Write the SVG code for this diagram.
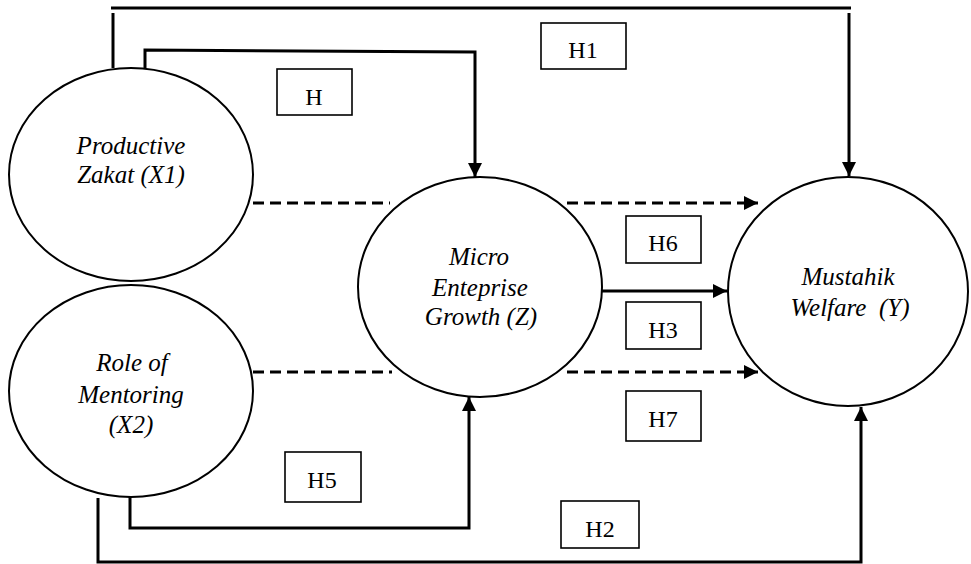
<svg xmlns="http://www.w3.org/2000/svg" width="971" height="564" viewBox="0 0 971 564">
<defs>
<marker id="ah" viewBox="0 0 14 14" refX="14" refY="7" markerWidth="14" markerHeight="14" markerUnits="userSpaceOnUse" orient="auto">
<path d="M0,0 L14,7 L0,14 Z" fill="#000"/>
</marker>
</defs>
<rect width="971" height="564" fill="#fff"/>
<g id="connectors" fill="none" stroke="#000" stroke-width="3">
<line x1="111" y1="8" x2="851" y2="8"/>
<line x1="113" y1="13" x2="113" y2="68"/>
<line x1="849" y1="13" x2="849" y2="176" marker-end="url(#ah)"/>
<polyline points="145,68 145,50 475,52 475,177" marker-end="url(#ah)"/>
<line stroke-dasharray="11 6" x1="253" y1="203" x2="390" y2="203"/>
<line stroke-dasharray="11 6" x1="567" y1="203" x2="758" y2="203" marker-end="url(#ah)"/>
<line x1="602" y1="291" x2="727" y2="291" marker-end="url(#ah)"/>
<line stroke-dasharray="11 6" x1="253" y1="372" x2="392" y2="372"/>
<line stroke-dasharray="11 6" x1="567" y1="372" x2="758" y2="372" marker-end="url(#ah)"/>
<polyline points="130,497 130,528 469,528 469,397" marker-end="url(#ah)"/>
<polyline points="98,498 98,562 861,562 861,407" marker-end="url(#ah)"/>
</g>
<g id="X1">
<ellipse cx="131" cy="174.5" rx="122" ry="106.5" fill="#fff" stroke="#000" stroke-width="2"/>
<text x="131" y="154" font-family="'Liberation Serif', 'Times New Roman', Tinos, serif" font-style="italic" font-size="25" text-anchor="middle" style="font-family:'Liberation Serif','Times New Roman',serif">Productive</text>
<text x="131" y="183" font-family="'Liberation Serif', 'Times New Roman', Tinos, serif" font-style="italic" font-size="25" text-anchor="middle" style="font-family:'Liberation Serif','Times New Roman',serif">Zakat (X1)</text>
</g>
<g id="X2">
<ellipse cx="131" cy="391" rx="122" ry="106" fill="#fff" stroke="#000" stroke-width="2"/>
<text x="132" y="371" font-family="'Liberation Serif', 'Times New Roman', Tinos, serif" font-style="italic" font-size="25" text-anchor="middle" style="font-family:'Liberation Serif','Times New Roman',serif">Role of</text>
<text x="131" y="403" font-family="'Liberation Serif', 'Times New Roman', Tinos, serif" font-style="italic" font-size="25" text-anchor="middle" style="font-family:'Liberation Serif','Times New Roman',serif">Mentoring</text>
<text x="131" y="433" font-family="'Liberation Serif', 'Times New Roman', Tinos, serif" font-style="italic" font-size="25" text-anchor="middle" style="font-family:'Liberation Serif','Times New Roman',serif">(X2)</text>
</g>
<g id="Z">
<ellipse cx="480" cy="287" rx="122" ry="110" fill="#fff" stroke="#000" stroke-width="2"/>
<text x="479" y="265" font-family="'Liberation Serif', 'Times New Roman', Tinos, serif" font-style="italic" font-size="25" text-anchor="middle" style="font-family:'Liberation Serif','Times New Roman',serif">Micro</text>
<text x="480" y="296" font-family="'Liberation Serif', 'Times New Roman', Tinos, serif" font-style="italic" font-size="25" text-anchor="middle" style="font-family:'Liberation Serif','Times New Roman',serif">Enteprise</text>
<text x="481" y="325" font-family="'Liberation Serif', 'Times New Roman', Tinos, serif" font-style="italic" font-size="25" text-anchor="middle" style="font-family:'Liberation Serif','Times New Roman',serif">Growth (Z)</text>
</g>
<g id="Y">
<ellipse cx="848" cy="291.5" rx="120" ry="114.5" fill="#fff" stroke="#000" stroke-width="2"/>
<text x="848" y="285" font-family="'Liberation Serif', 'Times New Roman', Tinos, serif" font-style="italic" font-size="25" text-anchor="middle" style="font-family:'Liberation Serif','Times New Roman',serif">Mustahik</text>
<text x="850" y="316" font-family="'Liberation Serif', 'Times New Roman', Tinos, serif" font-style="italic" font-size="25" text-anchor="middle" style="font-family:'Liberation Serif','Times New Roman',serif;white-space:pre">Welfare  (Y)</text>
</g>
<g id="labels">
<g id="lH"><rect x="277" y="69" width="75" height="46" fill="#fff" stroke="#000" stroke-width="1.6"/><text x="314" y="105" font-family="'Liberation Serif', 'Times New Roman', Tinos, serif" font-size="24" text-anchor="middle" style="font-family:'Liberation Serif','Times New Roman',serif">H</text></g>
<g id="lH1"><rect x="541" y="23" width="85" height="46" fill="#fff" stroke="#000" stroke-width="1.6"/><text x="583" y="58" font-family="'Liberation Serif', 'Times New Roman', Tinos, serif" font-size="24" text-anchor="middle" style="font-family:'Liberation Serif','Times New Roman',serif">H1</text></g>
<g id="lH6"><rect x="626" y="216" width="75" height="47" fill="#fff" stroke="#000" stroke-width="1.6"/><text x="663" y="251" font-family="'Liberation Serif', 'Times New Roman', Tinos, serif" font-size="24" text-anchor="middle" style="font-family:'Liberation Serif','Times New Roman',serif">H6</text></g>
<g id="lH3"><rect x="626" y="302" width="75" height="47" fill="#fff" stroke="#000" stroke-width="1.6"/><text x="663" y="338" font-family="'Liberation Serif', 'Times New Roman', Tinos, serif" font-size="24" text-anchor="middle" style="font-family:'Liberation Serif','Times New Roman',serif">H3</text></g>
<g id="lH7"><rect x="626" y="391" width="75" height="50" fill="#fff" stroke="#000" stroke-width="1.6"/><text x="663" y="427" font-family="'Liberation Serif', 'Times New Roman', Tinos, serif" font-size="24" text-anchor="middle" style="font-family:'Liberation Serif','Times New Roman',serif">H7</text></g>
<g id="lH5"><rect x="285" y="452" width="76" height="50" fill="#fff" stroke="#000" stroke-width="1.6"/><text x="322" y="488" font-family="'Liberation Serif', 'Times New Roman', Tinos, serif" font-size="24" text-anchor="middle" style="font-family:'Liberation Serif','Times New Roman',serif">H5</text></g>
<g id="lH2"><rect x="561" y="501" width="78" height="47" fill="#fff" stroke="#000" stroke-width="1.6"/><text x="600" y="537" font-family="'Liberation Serif', 'Times New Roman', Tinos, serif" font-size="24" text-anchor="middle" style="font-family:'Liberation Serif','Times New Roman',serif">H2</text></g>
</g>
</svg>
